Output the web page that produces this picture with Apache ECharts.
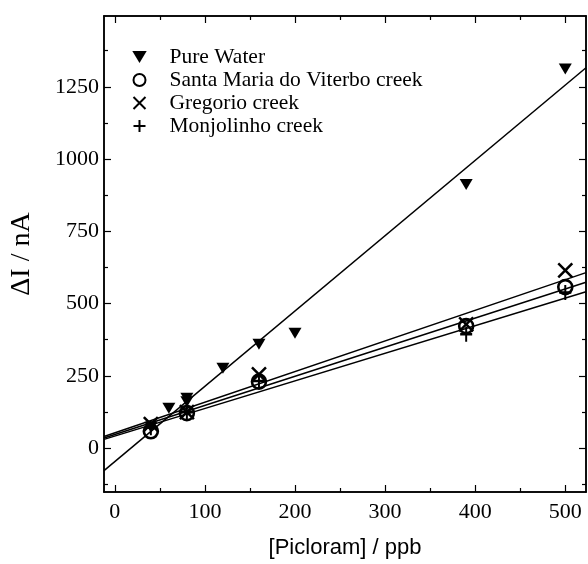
<!DOCTYPE html>
<html>
<head>
<meta charset="utf-8">
<script src="https://cdn.jsdelivr.net/npm/echarts@6/dist/echarts.min.js"></script>
<style>
  html, body { margin: 0; padding: 0; background: #fff; }
  #chart { width: 588px; height: 564px; }
</style>
</head>
<body>
<div id="chart"></div>
<script>
// values
const pureWater = [[40, 72], [60, 138], [80, 160], [80, 172], [120, 276], [160, 359], [200, 397], [390, 912], [500, 1312]];
const santaMaria = [[40, 58], [80, 121], [160, 230], [390, 422], [500, 557]];
const gregorio = [[40, 83], [80, 124], [160, 255], [390, 428], [500, 615]];
const monjolinho = [[40, 70], [80, 125], [160, 232], [390, 394], [500, 538]];

// fitted lines, end points read where they leave the frame
const fitPure = [[-12, -78], [523, 1316]];
const fitGregorio = [[-12, 40], [523, 607]];
const fitSanta = [[-12, 35], [523, 574]];
const fitMonjolinho = [[-12, 30], [523, 541]];

const xMajor = [0, 100, 200, 300, 400, 500];
const xMinor = [50, 150, 250, 350, 450];
const yMajor = [0, 250, 500, 750, 1000, 1250];
const yMinor = [-125, 125, 375, 625, 875, 1125, 1375];

const X_MIN = -12, X_MAX = 523;
const Y_MIN = -152, Y_MAX = 1495;

const SERIF = 'Liberation Serif';
const black = '#000';

function xAx(position, ticks, len, withLabels) {
  return {
    type: 'value', min: X_MIN, max: X_MAX, position,
    axisLine: { show: true, onZero: false, lineStyle: { color: black, width: 1.5 } },
    axisTick: { show: true, inside: true, length: len, customValues: ticks, lineStyle: { color: black, width: 1.2 } },
    axisLabel: withLabels
      ? { customValues: ticks, color: black, fontFamily: SERIF, fontSize: 22, margin: 9, formatter: (v) => String(v) }
      : { show: false },
    splitLine: { show: false },
  };
}

function yAx(position, ticks, len, withLabels) {
  return {
    type: 'value', min: Y_MIN, max: Y_MAX, position,
    axisLine: { show: true, onZero: false, lineStyle: { color: black, width: 1.5 } },
    axisTick: { show: true, inside: true, length: len, customValues: ticks, lineStyle: { color: black, width: 1.2 } },
    axisLabel: withLabels
      ? { customValues: ticks, color: black, fontFamily: SERIF, fontSize: 22, margin: 5, formatter: (v) => String(v) }
      : { show: false },
    splitLine: { show: false },
  };
}

const xBottom = xAx('bottom', xMajor, 7, true);
xBottom.name = '[Picloram] / ppb';
xBottom.nameLocation = 'middle';
xBottom.nameGap = 45;
xBottom.nameTextStyle = { fontFamily: 'Liberation Sans', fontSize: 22, color: black };

const yLeft = yAx('left', yMajor, 7, true);
yLeft.name = 'ΔI / nA';
yLeft.nameLocation = 'middle';
yLeft.nameGap = 68;
yLeft.nameTextStyle = { fontFamily: SERIF, fontSize: 28, color: black };

const triDown = 'path://M0,0L12,0L6,10Z';
const cross = 'path://M0,0L10,10M10,0L0,10';
const plus = 'path://M5,0L5,10M0,5L10,5';

function fitLine(name, data) {
  return {
    name, type: 'line', data, symbol: 'none', silent: true,
    lineStyle: { color: black, width: 1.5 }, z: 1,
  };
}

const chart = echarts.init(document.getElementById('chart'));
chart.setOption({
  animation: false,
  backgroundColor: '#fff',
  grid: { left: 102, right: 2, top: 16, bottom: 71 },
  legend: {
    left: 126, top: 41, orient: 'vertical',
    itemWidth: 50, itemHeight: 12, itemGap: 1,
    data: ['Pure Water', 'Santa Maria do Viterbo creek', 'Gregorio creek', 'Monjolinho creek'],
    textStyle: { fontFamily: SERIF, fontSize: 21.5, color: black, lineHeight: 19 },
  },
  xAxis: [xBottom, xAx('bottom', xMinor, 4, false), xAx('top', xMajor, 7, false), xAx('top', xMinor, 4, false)],
  yAxis: [yLeft, yAx('left', yMinor, 4, false), yAx('right', yMajor, 7, false), yAx('right', yMinor, 4, false)],
  series: [
    fitLine('fit pure', fitPure),
    fitLine('fit gregorio', fitGregorio),
    fitLine('fit santa', fitSanta),
    fitLine('fit monjolinho', fitMonjolinho),
    {
      name: 'Pure Water', type: 'scatter', data: pureWater,
      symbol: triDown, symbolSize: [13, 11],
      itemStyle: { color: black, opacity: 1 }, z: 3,
    },
    {
      name: 'Santa Maria do Viterbo creek', type: 'scatter', data: santaMaria,
      symbol: 'circle', symbolSize: 14,
      itemStyle: { color: 'none', borderColor: black, borderWidth: 2.6, opacity: 1 }, z: 3,
    },
    {
      name: 'Gregorio creek', type: 'scatter', data: gregorio,
      symbol: cross, symbolSize: 14,
      itemStyle: { color: 'none', borderColor: black, borderWidth: 2.5, opacity: 1 }, z: 3,
    },
    {
      name: 'Monjolinho creek', type: 'scatter', data: monjolinho,
      symbol: plus, symbolSize: [12, 15],
      itemStyle: { color: 'none', borderColor: black, borderWidth: 2.2, opacity: 1 }, z: 3,
    },
  ],
});
</script>
</body>
</html>
